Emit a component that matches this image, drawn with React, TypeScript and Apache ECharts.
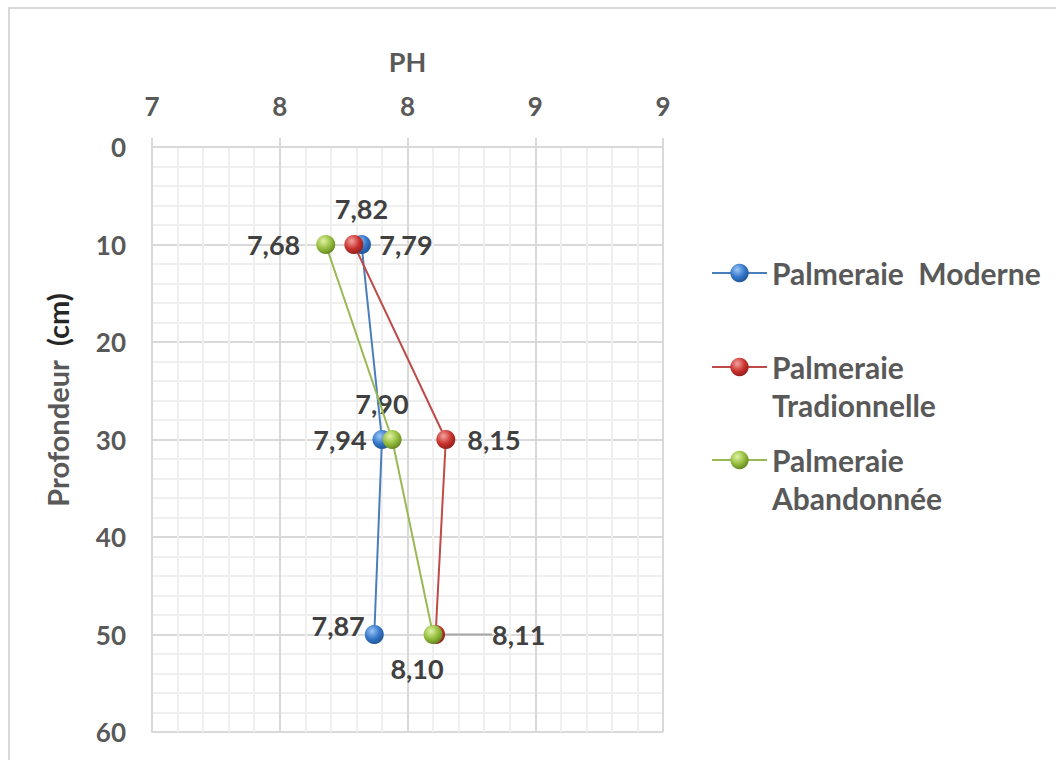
import React, { useEffect, useRef } from 'react';
import * as echarts from 'echarts';

// ---- data ----
const depths = [10, 30, 50];
const seriesNames = ['Palmeraie  Moderne', 'Palmeraie Tradionnelle', 'Palmeraie Abandonnée'];
const phModerne = [7.82, 7.9, 7.87];
const phTraditionnelle = [7.79, 8.15, 8.11];
const phAbandonnee = [7.68, 7.94, 8.1];
const xTickLabels = ['7', '8', '8', '9', '9'];
const legendLabels = ['Palmeraie  Moderne', '\nPalmeraie\nTradionnelle', '\nPalmeraie\nAbandonnée'];

const FONT = 'Lato, "Liberation Sans", sans-serif';

const lineColors = ['#4A7EBB', '#BE4B48', '#98B954'];
const sphereStops = [
  ['#9cc6f5', '#3476c8', '#1d4f8f'],
  ['#f5a3a1', '#c8322e', '#8a1c1a'],
  ['#e2f2a6', '#93bd3c', '#5d7d1f'],
];

// label placement per series / point (style, not data)
const labelPlacement: any[][] = [
  [
    { position: 'top', distance: 13 },
    { position: 'top', distance: 13 },
    { position: 'left', distance: 0, offset: [0, -9] },
  ],
  [
    { position: 'right', distance: 16 },
    { position: 'right', distance: 12 },
    { position: 'right', distance: 5 },
  ],
  [
    { position: 'left', distance: 16 },
    { position: 'left', distance: 16 },
    { position: 'bottom', distance: 11, offset: [-16, 0] },
  ],
];

const fmt = (v: number) => v.toFixed(2).replace('.', ',');

function sphere(idx: number) {
  const stops = sphereStops[idx];
  return {
    type: 'radial',
    x: 0.38,
    y: 0.32,
    r: 0.75,
    colorStops: [
      { offset: 0, color: stops[0] },
      { offset: 0.55, color: stops[1] },
      { offset: 1, color: stops[2] },
    ],
  };
}

function buildSeries(idx: number, values: number[]) {
  return {
    name: seriesNames[idx],
    type: 'line',
    symbol: 'circle',
    symbolSize: 19,
    z: 2 + idx,
    lineStyle: { color: lineColors[idx], width: 2 },
    itemStyle: { color: sphere(idx) },
    label: {
      show: true,
      color: '#404040',
      fontFamily: FONT,
      fontWeight: 'bold',
      fontSize: 27,
      formatter: (p: any) => fmt(p.value[0]),
    },
    labelLine: { show: false },
    labelLayout: idx === 1 ? (p: any) => (p.dataIndex === 2 ? { dx: 42 } : {}) : undefined,
    data: values.map((v, i) => {
      const item: any = {
        value: [v, depths[i]],
        label: { ...labelPlacement[idx][i] },
      };
      if (idx === 1 && i === 2) {
        item.labelLine = { show: true, lineStyle: { color: '#a6a6a6', width: 2 } };
      }
      return item;
    }),
  };
}

const legendBase = {
  orient: 'vertical',
  left: 711,
  padding: 0,
  itemWidth: 55,
  itemHeight: 23,
  textStyle: { color: '#595959', fontFamily: FONT, fontWeight: 'bold', fontSize: 30, lineHeight: 38 },
  formatter: (name: string) => legendLabels[seriesNames.indexOf(name)],
};

const option: any = {
  animation: false,
  backgroundColor: '#ffffff',
  grid: { left: 152, top: 147, width: 511, height: 585, containLabel: false },
  xAxis: {
    type: 'value',
    position: 'top',
    min: 7,
    max: 9,
    interval: 0.5,
    name: 'PH',
    nameLocation: 'middle',
    nameGap: 72,
    nameTextStyle: { color: '#595959', fontFamily: FONT, fontWeight: 'bold', fontSize: 27 },
    axisLine: { show: true, lineStyle: { color: '#d9d9d9', width: 2 } },
    axisTick: { show: true, length: 9, lineStyle: { color: '#d9d9d9', width: 2 } },
    axisLabel: {
      color: '#595959',
      fontFamily: FONT,
      fontWeight: 'bold',
      fontSize: 26,
      margin: 28,
      formatter: (v: number) => xTickLabels[Math.round((v - 7) / 0.5)],
    },
    splitLine: { show: true, lineStyle: { color: '#d9d9d9', width: 2 } },
    minorTick: { show: false, splitNumber: 5 },
    minorSplitLine: { show: true, lineStyle: { color: '#efefef', width: 2 } },
  },
  yAxis: {
    type: 'value',
    inverse: true,
    min: 0,
    max: 60,
    interval: 10,
    axisLine: { show: true, lineStyle: { color: '#d9d9d9', width: 2 } },
    axisTick: { show: false },
    axisLabel: { color: '#595959', fontFamily: FONT, fontWeight: 'bold', fontSize: 26, margin: 26 },
    splitLine: { show: true, lineStyle: { color: '#d9d9d9', width: 2 } },
    minorTick: { show: false, splitNumber: 5 },
    minorSplitLine: { show: true, lineStyle: { color: '#efefef', width: 2 } },
  },
  legend: [
    { ...legendBase, data: [seriesNames[0]], top: 254 },
    { ...legendBase, data: [seriesNames[1]], top: 310 },
    { ...legendBase, data: [seriesNames[2]], top: 403 },
  ],
  graphic: [
    {
      type: 'rect',
      silent: true,
      shape: { x: 9, y: 8, width: 1100, height: 800 },
      style: { fill: 'none', stroke: '#d9d9d9', lineWidth: 2 },
    },
    {
      type: 'text',
      x: 57,
      y: 400,
      rotation: Math.PI / 2,
      style: {
        text: '{a|Profondeur}{a|  }{b|(cm)}',
        textAlign: 'center',
        textVerticalAlign: 'middle',
        rich: {
          a: { fill: '#595959', fontFamily: FONT, fontWeight: 'bold', fontSize: 29 },
          b: { fill: '#262626', fontFamily: FONT, fontWeight: 'bold', fontSize: 29 },
        },
      },
    },
  ],
  series: [
    buildSeries(0, phModerne),
    buildSeries(1, phTraditionnelle),
    buildSeries(2, phAbandonnee),
  ],
};

export default function App() {
  const ref = useRef<HTMLDivElement>(null);
  useEffect(() => {
    document.body.style.margin = '0';
    const chart = echarts.init(ref.current as HTMLDivElement, null, { renderer: 'svg' });
    chart.setOption(option);
    return () => chart.dispose();
  }, []);
  return <div ref={ref} style={{ width: 1056, height: 760 }} />;
}
